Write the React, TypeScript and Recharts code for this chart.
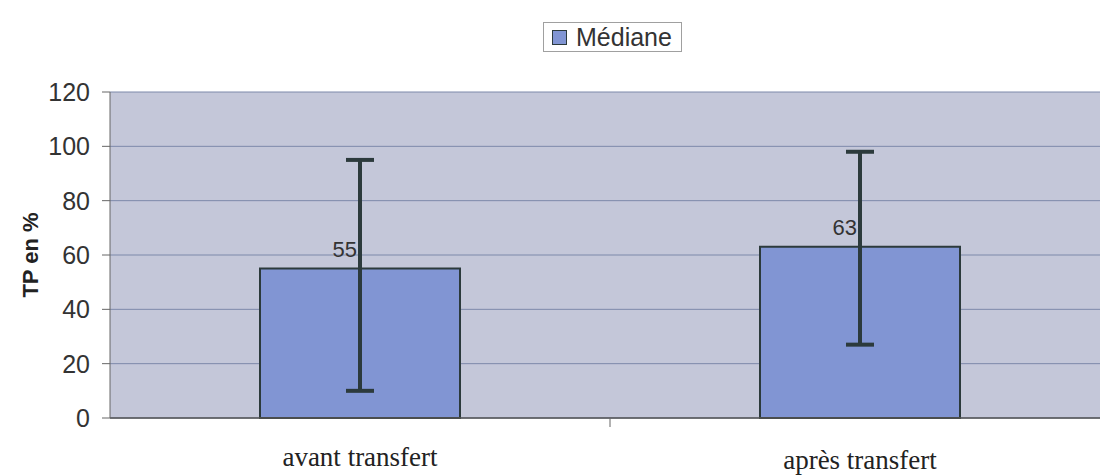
import React from "react";
import {
  BarChart,
  Bar,
  XAxis,
  YAxis,
  CartesianGrid,
  ErrorBar,
  LabelList,
} from "recharts";

// values
const categories = ["avant transfert", "après transfert"];
const medians = [55, 63];
const lowValues = [10, 27];
const highValues = [95, 98];
const yTicks = [0, 20, 40, 60, 80, 100, 120];

const COLORS = {
  plotBg: "#c4c7d9",
  bar: "#8195d3",
  barStroke: "#2c3a3c",
  grid: "#7d89aa",
  text: "#333333",
};

const SANS = "'Liberation Sans', Arial, sans-serif";
const SERIF = "'Liberation Serif', 'Times New Roman', serif";

// ErrorBar wants [minus, plus] deltas around the value
const data = categories.map((name, i) => ({
  name,
  value: medians[i],
  err: [medians[i] - lowValues[i], highValues[i] - medians[i]],
}));

const ValueLabel = (props: any) => {
  const { x, y, width, value } = props;
  return (
    <text
      x={x + width / 2 - 3}
      y={y - 12}
      textAnchor="end"
      fontSize={22}
      fill={COLORS.text}
      fontFamily={SANS}
    >
      {value}
    </text>
  );
};

// category label + the small tick between categories (Excel style)
const XTick = (props: any) => {
  const { x, y, index, payload } = props;
  const half = payload.offset || 0;
  return (
    <g>
      {index === 0 && half > 0 && (
        <line x1={x + half} x2={x + half} y1={418} y2={427} stroke="#666" />
      )}
      <text
        x={x}
        y={y + 40 + (index === 1 ? 3 : 0)}
        textAnchor="middle"
        fontSize={27}
        fill="#222"
        fontFamily={SERIF}
      >
        {payload.value}
      </text>
    </g>
  );
};

const YLabel = (props: any) => {
  const { viewBox } = props;
  const cy = viewBox.y + viewBox.height / 2;
  return (
    <text
      x={30}
      y={cy}
      transform={`rotate(-90, 30, ${cy})`}
      textAnchor="middle"
      dominantBaseline="central"
      fontSize={22}
      fontWeight="bold"
      fill="#222"
      fontFamily={SANS}
    >
      TP en %
    </text>
  );
};

export default function App() {
  return (
    <div
      style={{
        position: "absolute",
        left: 0,
        top: 0,
        width: 1100,
        height: 475,
        overflow: "hidden",
        background: "#fff",
      }}
    >
      <div
        style={{
          position: "absolute",
          left: 543,
          top: 22,
          width: 137,
          height: 28,
          border: "1px solid #a0a0a0",
          background: "#fff",
          display: "flex",
          alignItems: "center",
          fontFamily: SANS,
          fontSize: 25,
          color: "#333",
          zIndex: 1,
        }}
      >
        <span
          style={{
            display: "inline-block",
            width: 13,
            height: 13,
            background: COLORS.bar,
            border: "1px solid #2c3a3c",
            marginLeft: 8,
            marginRight: 9,
          }}
        />
        Médiane
      </div>
      <BarChart
        width={1120}
        height={475}
        data={data}
        margin={{ top: 92, right: 10, left: 0, bottom: 27 }}
        barCategoryGap="30%"
      >
        <CartesianGrid
          vertical={false}
          fill={COLORS.plotBg}
          stroke={COLORS.grid}
          strokeWidth={1}
        />
        <XAxis
          dataKey="name"
          height={30}
          axisLine={{ stroke: "#555", strokeWidth: 1.5 }}
          tickLine={false}
          tick={<XTick />}
          interval={0}
        />
        <YAxis
          width={110}
          domain={[0, 120]}
          ticks={yTicks}
          interval={0}
          axisLine={{ stroke: "#666" }}
          tickLine={{ stroke: "#666" }}
          tickSize={8}
          tickMargin={12}
          tick={{ fontSize: 25, fill: COLORS.text, fontFamily: SANS }}
          label={<YLabel />}
        />
        <Bar
          dataKey="value"
          name="Médiane"
          fill={COLORS.bar}
          stroke={COLORS.barStroke}
          strokeWidth={2}
          isAnimationActive={false}
        >
          <ErrorBar
            dataKey="err"
            width={14}
            stroke={COLORS.barStroke}
            strokeWidth={4}
            direction="y"
          />
          <LabelList dataKey="value" content={<ValueLabel />} />
        </Bar>
      </BarChart>
    </div>
  );
}
